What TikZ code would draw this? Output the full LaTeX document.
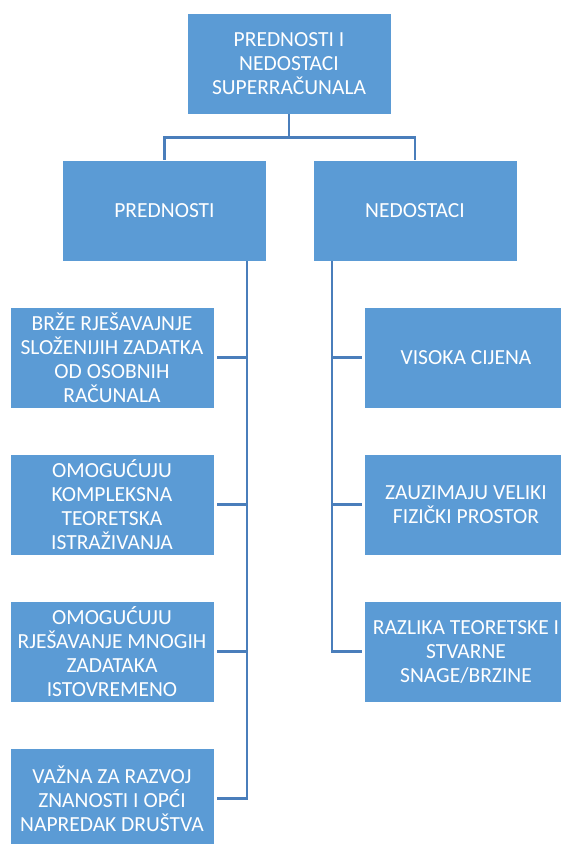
\documentclass[tikz,border=0pt]{standalone}
\usepackage{fontspec}
\setmainfont{Carlito}
\usepackage{xcolor}
\usepackage{tikz}
\definecolor{boxblue}{HTML}{5B9BD5}
\definecolor{lineblue}{HTML}{4A7EBB}
\tikzstyle{block} = [rectangle, minimum width=204pt, minimum height=101pt, inner sep=1pt, text centered, align=center, draw=white, line width=0.8pt, fill=boxblue, text=white, font=\fontsize{21.5pt}{24pt}\selectfont]
\tikzstyle{link} = [lineblue, line width=2.3pt]

\begin{document}
\begin{tikzpicture}[node distance=147pt]
            \useasboundingbox (0,0) rectangle (561pt,-844pt);
            % Nodes
            \node (root) [block] at (289pt,-63.5pt) {PREDNOSTI I\\NEDOSTACI\\SUPERRAČUNALA};
            \node (pred) [block, below of=root, xshift=-124.5pt] {PREDNOSTI};
            \node (ned) [block, below of=root, xshift=126pt] {NEDOSTACI};

            % Prednosti
            \node (p1) [block, below of=pred, xshift=-52.5pt] {BRŽE RJEŠAVAJNJE\\SLOŽENIJIH ZADATKA\\OD OSOBNIH\\RAČUNALA};
            \node (p2) [block, below of=p1] {OMOGUĆUJU\\KOMPLEKSNA\\TEORETSKA\\ISTRAŽIVANJA};
            \node (p3) [block, below of=p2] {OMOGUĆUJU\\RJEŠAVANJE MNOGIH\\ZADATAKA\\ISTOVREMENO};
            \node (p4) [block, below of=p3] {VAŽNA ZA RAZVOJ\\ZNANOSTI I OPĆI\\NAPREDAK DRUŠTVA};

            % Nedostaci
            \node (n1) [block, below of=ned, xshift=51pt] {VISOKA CIJENA};
            \node (n2) [block, below of=n1] {ZAUZIMAJU VELIKI\\FIZIČKI PROSTOR};
            \node (n3) [block, below of=n2] {RAZLIKA TEORETSKE I\\STVARNE\\SNAGE/BRZINE};

            % Connectors
            \coordinate (fork) at ([yshift=-23pt]root.south);
            \draw [link] (root.south) -- (fork) -| (pred.north);
            \draw [link] (fork) -| (ned.north);
            \foreach \i in {1,...,4}
                \draw [link] ([xshift=82.5pt]pred.south) |- ([xshift=3pt]p\i.east);
            \foreach \i in {1,...,3}
                \draw [link] ([xshift=-83pt]ned.south) |- ([xshift=-2pt]n\i.west);
        \end{tikzpicture}
\end{document}
